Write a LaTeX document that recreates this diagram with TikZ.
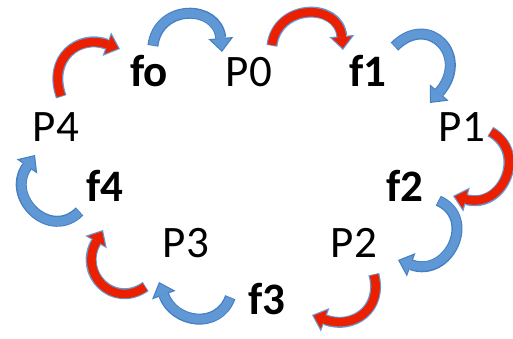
\documentclass[tikz,border=0pt]{standalone}
\usepackage{fontspec}
\setmainfont{Carlito}
\usetikzlibrary{arrows.meta}
\definecolor{bfill}{RGB}{95,152,212}
\definecolor{bedge}{RGB}{70,128,195}
\definecolor{rfill}{RGB}{235,32,0}
\definecolor{redge}{RGB}{100,155,215}
\tikzset{
  lbl/.style={font=\fontsize{45}{54}\selectfont, inner sep=0pt, anchor=base, text=black},
  blbl/.style={inner sep=0pt, anchor=base, text=black, font=\fontsize{45}{54}\selectfont\bfseries},
  arrowouter/.style={line width=11pt, draw=#1, shorten <=-0.8pt, -{Triangle[length=14pt,width=25pt,line width=0pt]}},
  arrowinner/.style={line width=8.6pt, draw=#1, shorten >=1.8pt, -{Triangle[length=11pt,width=19.6pt,line width=0pt]}},
}
\newcommand{\bentarrow}[8]{%
  \draw[arrowouter=#2] (#3) to[out=#5,in=#6,out distance=#7,in distance=#8] (#4);
  \draw[arrowinner=#1] (#3) to[out=#5,in=#6,out distance=#7,in distance=#8] (#4);
}
\begin{document}
\begin{tikzpicture}[x=1pt,y=1pt]
\useasboundingbox (0,0) rectangle (513,339);
% labels
\node[blbl] (fo) at (149,252) {fo};
\node[lbl]  (P0) at (249,252) {P0};
\node[blbl] (f1) at (368,252) {f1};
\node[lbl]  (P4) at (56,197) {P4};
\node[lbl]  (P1) at (462,197) {P1};
\node[blbl] (f4) at (105,137) {f4};
\node[blbl] (f2) at (405,137) {f2};
\node[lbl]  (P3) at (186,81) {P3};
\node[lbl]  (P2) at (354,81) {P2};
\node[blbl] (f3) at (267,24) {f3};
% arrow ends
\coordinate (a1s) at (61,243);  \coordinate (a1e) at (120,290);
\coordinate (a2s) at (153,294); \coordinate (a2e) at (222,287);
\coordinate (a3s) at (272,294); \coordinate (a3e) at (343,289);
\coordinate (a4s) at (395,293); \coordinate (a4e) at (430,236);
\coordinate (a5s) at (491,207); \coordinate (a5e) at (453,143);
\coordinate (a6s) at (439,138); \coordinate (a6e) at (398,79);
\coordinate (a7s) at (374,64);  \coordinate (a7e) at (312,24);
\coordinate (a8s) at (230,41);  \coordinate (a8e) at (159,57);
\coordinate (a9s) at (145,52);  \coordinate (a9e) at (103,109);
\coordinate (a10s) at (79,127); \coordinate (a10e) at (35,184);
% arrows
\bentarrow{rfill}{redge}{a1s}{a1e}{110}{160}{40pt}{44pt}
\bentarrow{bfill}{bedge}{a2s}{a2e}{83}{95}{42pt}{48pt}
\bentarrow{rfill}{redge}{a3s}{a3e}{83}{95}{42pt}{48pt}
\bentarrow{bfill}{bedge}{a4s}{a4e}{45}{49}{48pt}{62pt}
\bentarrow{rfill}{redge}{a5s}{a5e}{-29}{-15}{42pt}{52pt}
\bentarrow{bfill}{bedge}{a6s}{a6e}{-24}{-20}{42pt}{54pt}
\bentarrow{rfill}{redge}{a7s}{a7e}{-75}{-20}{35pt}{44pt}
\bentarrow{bfill}{bedge}{a8s}{a8e}{-110}{-70}{34pt}{44pt}
\bentarrow{rfill}{redge}{a9s}{a9e}{-145}{-120}{39pt}{50pt}
\bentarrow{bfill}{bedge}{a10s}{a10e}{-135}{-125}{41pt}{52pt}
\end{tikzpicture}
\end{document}
